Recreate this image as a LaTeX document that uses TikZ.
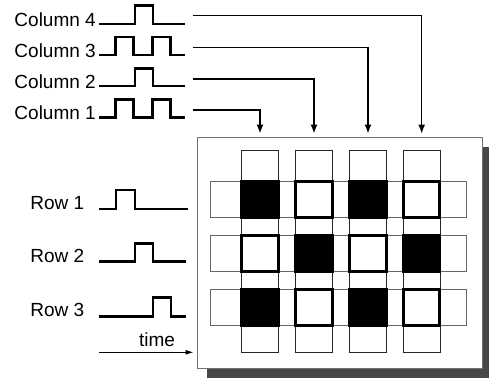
\documentclass[tikz,border=0pt]{standalone}
\usepackage{fontspec}
\setmainfont{Liberation Sans}
\usetikzlibrary{arrows.meta}
\begin{document}
\begin{tikzpicture}[x=1pt,y=-1pt,
  wave/.style={line width=2.8pt, line join=miter},
  conn/.style={line width=1.3pt, -{Latex[length=9pt,width=7pt]}},
  lbl/.style={font=\fontsize{19}{22}\selectfont, inner sep=0pt},
  vstrip/.style={draw=black!85, line width=0.9pt, minimum width=36.5pt, minimum height=201.6pt, inner sep=0pt},
  hstrip/.style={draw=black!60, line width=0.9pt, minimum width=256pt, minimum height=36pt, inner sep=0pt},
  onsq/.style={draw=black, fill=black, line width=3pt, minimum width=36.5pt, minimum height=36pt, inner sep=0pt},
  offsq/.style={draw=black, fill=white, line width=3pt, minimum width=36.5pt, minimum height=36pt, inner sep=0pt},
  boardbox/.style={minimum width=285pt, minimum height=231pt, inner sep=0pt}]
\useasboundingbox (0,0) rectangle (489,381);
\fill[white] (0,0) rectangle (489,381);
% board and shadow
\node[boardbox, fill=black!72] (shadow) at (349.8,262.5) {};
\node[boardbox, fill=white, draw=black!55, line width=1pt] (board) at (339.8,252.5) {};
% strips
\foreach \i/\x in {1/260,2/314,3/368,4/421.7}
  \node[vstrip] (v\i) at (\x,251.5) {};
\foreach \j/\y in {1/199.7,2/253.7,3/307.7}
  \node[hstrip] (h\j) at (338.7,\y) {};
% intersections
\node[onsq]  (s11) at (260,199.7) {};
\node[offsq] (s12) at (314,199.7) {};
\node[onsq]  (s13) at (368,199.7) {};
\node[offsq] (s14) at (421.7,199.7) {};
\node[offsq] (s21) at (260,253.7) {};
\node[onsq]  (s22) at (314,253.7) {};
\node[offsq] (s23) at (368,253.7) {};
\node[onsq]  (s24) at (421.7,253.7) {};
\node[onsq]  (s31) at (260,307.7) {};
\node[offsq] (s32) at (314,307.7) {};
\node[onsq]  (s33) at (368,307.7) {};
\node[offsq] (s34) at (421.7,307.7) {};
% column labels
\node[lbl, anchor=base east] (lc4) at (96,26.5) {Column 4};
\node[lbl, anchor=base east] (lc3) at (96,57.5) {Column 3};
\node[lbl, anchor=base east] (lc2) at (96,88.5) {Column 2};
\node[lbl, anchor=base east] (lc1) at (96,119.5) {Column 1};
% column waveforms
\draw[wave] (99.3,24) -- (135,24) -- (135,5.3) -- (153,5.3) -- (153,24) -- (185,24);
\draw[wave] (99.3,55) -- (115.5,55) -- (115.5,37) -- (133.5,37) -- (133.5,55) -- (152.7,55) -- (152.7,37) -- (170.7,37) -- (170.7,55) -- (185,55);
\draw[wave] (99.3,86) -- (135,86) -- (135,68.5) -- (153,68.5) -- (153,86) -- (185,86);
\draw[wave] (99.3,117.3) -- (115.5,117.3) -- (115.5,99.5) -- (133.5,99.5) -- (133.5,117.3) -- (152.7,117.3) -- (152.7,99.5) -- (170.7,99.5) -- (170.7,117.3) -- (185,117.3);
% connectors
\coordinate (cs4) at (193.3,15.7);
\coordinate (cs3) at (193.3,47.3);
\coordinate (cs2) at (193.3,79);
\coordinate (cs1) at (193.3,110);
\coordinate (ct4) at (421.7,133.5);
\coordinate (ct3) at (368,133.5);
\coordinate (ct2) at (314,133.5);
\coordinate (ct1) at (260,133.5);
\foreach \i in {1,2,3,4}
  \draw[conn] (cs\i) -| (ct\i);
% row labels
\node[lbl, anchor=base east] (lr1) at (84.5,209) {Row 1};
\node[lbl, anchor=base east] (lr2) at (84.5,262.7) {Row 2};
\node[lbl, anchor=base east] (lr3) at (84.5,316.7) {Row 3};
% row waveforms
\draw[wave] (99.3,209) -- (116,209) -- (116,190) -- (135,190) -- (135,209) -- (188,209);
\draw[wave] (99.3,261.7) -- (135,261.7) -- (135,243.3) -- (153,243.3) -- (153,261.7) -- (186,261.7);
\draw[wave] (99.3,316.7) -- (153,316.7) -- (153,297.7) -- (171,297.7) -- (171,316.7) -- (186,316.7);
% time
\coordinate (t0) at (99.3,352.3);
\coordinate (t1) at (193.5,352.3);
\draw[line width=1pt, -{Latex[length=8pt,width=5pt]}] (t0) -- (t1);
\node[lbl, anchor=base] (tl) at (157,346.5) {time};
\end{tikzpicture}
\end{document}
